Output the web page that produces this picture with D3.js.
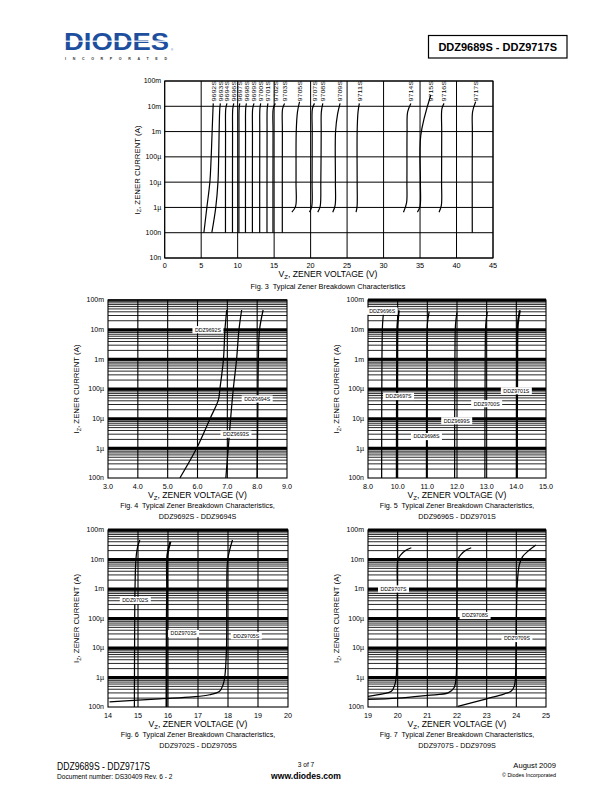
<!DOCTYPE html>
<html><head><meta charset="utf-8">
<script src="https://cdn.jsdelivr.net/npm/d3@7"></script>
<style>
body{margin:0;background:#fff}
svg{display:block}
text{font-family:"Liberation Sans",Arial,Helvetica,sans-serif;fill:#000;white-space:pre}
</style>
</head><body>
<svg id="page" width="612" height="792"></svg>
<script>
// ---------------- DATA ----------------
const yTickValues = [1e-1,1e-2,1e-3,1e-4,1e-5,1e-6,1e-7,1e-8];
const yTickLabels = ["100m","10m","1m","100µ","10µ","1µ","100n","10n"];

// Fig. 3 (all types)
const fig3XTicks = [0,5,10,15,20,25,30,35,40,45];
const fig3Names = ["9692S","9693S","9694S","9696S","9697S","9698S","9699S","9700S","9701S","9702S",
  "9703S","9705S","9707S","9708S","9709S","9711S","9714S","9715S","9716S","9717S"];
const fig3Curves = [
  [[5.37,1e-7],[5.78,1e-6],[6.19,1e-5],[6.37,1e-4],[6.5,1e-3],[6.62,8e-3],[6.66,1.3e-2]],
  [[6.46,1e-7],[7.0,1e-6],[7.3,1e-5],[7.4,1e-4],[7.46,1e-3],[7.55,8e-3],[7.63,1.3e-2]],
  [[8.33,1e-7],[8.34,1e-3],[8.37,8e-3],[8.53,1.3e-2]],
  [[9.29,1e-7],[9.3,1e-3],[9.33,8e-3],[9.47,1.3e-2]],
  [[10.17,1e-7],[10.18,1e-3],[10.2,8e-3],[10.29,1.3e-2]],
  [[11.07,1e-7],[11.08,1e-3],[11.1,8e-3],[11.2,1.3e-2]],
  [[12.02,1e-7],[12.03,1e-3],[12.06,8e-3],[12.24,1.3e-2]],
  [[13.02,1e-7],[13.03,1e-3],[13.05,8e-3],[13.16,1.3e-2]],
  [[14.02,1e-7],[14.03,1e-3],[14.05,8e-3],[14.15,1.3e-2]],
  [[14.84,1e-7],[14.85,1e-3],[14.88,8e-3],[15.16,1.3e-2]],
  [[16.12,1e-7],[16.13,1e-3],[16.16,8e-3],[16.43,1.3e-2]],
  [[17.43,6.5e-7],[17.94,1.1e-6],[18.0,1e-5],[18.03,1e-3],[18.2,6e-3],[18.48,1.5e-2]],
  [[19.85,6.5e-7],[20.16,1.1e-6],[20.2,1e-5],[20.22,1e-3],[20.25,8e-3],[20.53,1.3e-2]],
  [[20.98,6.5e-7],[21.31,1.1e-6],[21.4,1e-5],[21.45,1e-3],[21.47,6e-3],[21.67,1.3e-2]],
  [[23.03,6.5e-7],[23.36,1.2e-6],[23.4,1e-5],[23.42,1e-3],[23.7,5e-3],[24.04,1.3e-2]],
  [[26.23,6.5e-7],[26.37,1.1e-6],[26.38,1e-5],[26.38,1e-3],[26.5,6e-3],[26.68,1.3e-2]],
  [[32.73,6.5e-7],[33.15,1.5e-6],[33.2,1e-5],[33.22,1e-3],[33.3,6e-3],[33.74,1.3e-2]],
  [[34.64,6.5e-7],[35.0,1.1e-6],[35.05,1e-5],[35.1,7e-4],[36.47,2.8e-2]],
  [[37.6,6.5e-7],[37.92,1.2e-6],[37.95,1e-5],[37.97,1e-3],[38.0,8e-3],[38.29,1.3e-2]],
  [[42.16,1e-7],[42.15,1e-5],[42.17,1e-3],[42.2,6e-3],[42.62,1.5e-2]]
];

// Fig. 4
const fig4XTicks = [3,4,5,6,7,8,9];
const fig4XLabels = ["3.0","4.0","5.0","6.0","7.0","8.0","9.0"];
const fig4Names = ["DDZ9692S","DDZ9693S","DDZ9694S"];
const fig4Curves = [
  [[5.41,1e-7],[5.97,1e-6],[6.42,1e-5],[6.7,4.3e-5],[6.75,1e-4],[6.87,1e-3],[6.92,1e-2],[6.98,4.6e-2]],
  [[6.95,1e-7],[7.03,1e-6],[7.11,1e-5],[7.2,1e-4],[7.31,1e-3],[7.39,1e-2],[7.48,4.6e-2]],
  [[8.0,1e-7],[8.02,1e-5],[8.04,1e-3],[8.08,1e-2],[8.2,4.6e-2]]
];
const fig4LabelAt = [[6.35,1e-2],[7.29,3e-6],[8.0,4.6e-5]];

// Fig. 5
const fig5XTicks = [9,10,11,12,13,14,15];
const fig5XLabels = ["8.0","10.0","11.0","12.0","13.0","14.0","15.0"];
const fig5Names = ["DDZ9696S","DDZ9697S","DDZ9698S","DDZ9699S","DDZ9700S","DDZ9701S"];
const fig5Curves = [
  [[9.46,1e-7],[9.47,1e-3],[9.49,1.5e-2],[9.52,3.5e-2]],
  [[9.97,1e-7],[9.98,1e-3],[9.99,1.2e-2],[10.04,4.5e-2]],
  [[10.97,1e-7],[10.98,1e-3],[11.0,1.5e-2],[11.06,4e-2]],
  [[11.92,1e-7],[11.93,1e-3],[11.95,1.5e-2],[12.0,3.8e-2]],
  [[12.94,1e-7],[12.95,1e-3],[12.97,1.5e-2],[13.02,4e-2]],
  [[14.02,1e-7],[14.03,1e-3],[14.05,1.5e-2],[14.12,4.5e-2]]
];
const fig5LabelAt = [[9.48,4.2e-2],[10.03,5.6e-5],[10.97,2.5e-6],[11.99,8.5e-6],[13.0,3.2e-5],[14.0,8.7e-5]];

// Fig. 6
const fig6XTicks = [14,15,16,17,18,19,20];
const fig6XLabels = ["14","15","16","17","18","19","20"];
const fig6Names = ["DDZ9702S","DDZ9703S","DDZ9705S"];
const fig6Curves = [
  [[14.88,1e-7],[14.89,1e-4],[14.9,1e-3],[14.93,1e-2],[14.98,2.5e-2],[15.06,4.6e-2]],
  [[15.95,1e-7],[15.96,1e-4],[15.97,1e-3],[15.98,1.4e-2],[16.08,4e-2]],
  [[14.05,1.5e-7],[15.72,1.9e-7],[16.82,2.2e-7],[17.39,2.6e-7],[17.72,3.4e-7],[17.83,5.5e-7],[17.89,1e-6],[17.95,1e-5],[17.96,1e-3],[17.99,1e-2],[18.15,4.6e-2]]
];
const fig6LabelAt = [[14.91,4.1e-4],[16.52,3.1e-5],[18.61,2.6e-5]];

// Fig. 7
const fig7XTicks = [19,20,21,22,23,24,25];
const fig7XLabels = ["19","20","21","22","23","24","25"];
const fig7Names = ["DDZ9707S","DDZ9708S","DDZ9709S"];
const fig7Curves = [
  [[19.0,2.3e-7],[19.5,2.8e-7],[19.79,3.4e-7],[19.9,5.5e-7],[19.95,1e-6],[19.98,1e-5],[19.99,1e-3],[20.01,1e-2],[20.12,1.5e-2],[20.29,2.1e-2],[20.46,2.5e-2]],
  [[19.0,1.8e-7],[20.0,2e-7],[21.0,2.5e-7],[21.7,3e-7],[21.9,4.5e-7],[21.97,1e-6],[21.99,1e-5],[22.0,1e-3],[22.03,1e-2],[22.14,1.5e-2],[22.31,2.1e-2],[22.48,2.5e-2]],
  [[22.03,1.05e-7],[23.0,1.9e-7],[23.6,2.8e-7],[23.82,3.4e-7],[23.93,5e-7],[23.97,1e-6],[23.99,1e-5],[24.0,1e-4],[24.04,2e-3],[24.1,6.6e-3],[24.21,1.25e-2],[24.44,2.1e-2],[24.66,3.1e-2]]
];
const fig7LabelAt = [[19.86,1e-3],[22.61,1.26e-4],[24.02,2.1e-5]];

// ---------------- DRAWING ----------------
const svg = d3.select("#page");

function yTitle(g, x, y, size) {
  const t = g.append("text").attr("transform", `translate(${x},${y}) rotate(-90)`)
    .attr("text-anchor", "middle").attr("font-size", size);
  t.append("tspan").text("I");
  t.append("tspan").attr("font-size", size * 0.7).attr("dy", size * 0.25).text("Z");
  t.append("tspan").attr("dy", -size * 0.25).text(", ZENER CURRENT (A)");
}
function xTitle(g, x, y, size) {
  const t = g.append("text").attr("x", x).attr("y", y).attr("text-anchor", "middle").attr("font-size", size);
  t.append("tspan").text("V");
  t.append("tspan").attr("font-size", size * 0.7).attr("dy", size * 0.25).text("Z");
  t.append("tspan").attr("dy", -size * 0.25).text(", ZENER VOLTAGE (V)");
}

// Header
const logo = svg.append("g");
logo.append("text").attr("x", 64).attr("y", 50).attr("font-size", 24).attr("font-weight", "bold")
  .attr("textLength", 105).attr("lengthAdjust", "spacingAndGlyphs")
  .style("fill", "#1d4f9e").text("DIODES");
logo.append("rect").attr("x", 62).attr("y", 40.6).attr("width", 112).attr("height", 1.2).attr("fill", "#fff");
logo.append("text").attr("x", 171).attr("y", 51).attr("font-size", 3).style("fill", "#1d4f9e").text("®");
logo.append("text").attr("x", 65).attr("y", 59.5).attr("font-size", 3.6).attr("font-weight", "bold")
  .attr("textLength", 102).attr("lengthAdjust", "spacing").style("fill", "#333").text("INCORPORATED");

svg.append("rect").attr("x", 428.5).attr("y", 35.5).attr("width", 138.5).attr("height", 22.5)
  .attr("fill", "none").attr("stroke", "#000").attr("stroke-width", 1.2);
svg.append("text").attr("x", 497.7).attr("y", 51).attr("text-anchor", "middle").attr("font-size", 11)
  .attr("font-weight", "bold").text("DDZ9689S - DDZ9717S");

// Fig 3
(function () {
  const L = 164.7, R = 493, T = 81, B = 258;
  const g = svg.append("g");
  const x = d3.scaleLinear().domain([0, 45]).range([L, R]);
  const y = d3.scaleLog().domain([1e-8, 1e-1]).range([B, T]);
  g.selectAll(".hg").data(yTickValues).join("line")
    .attr("x1", L).attr("x2", R).attr("y1", d => y(d)).attr("y2", d => y(d))
    .attr("stroke", "#000").attr("stroke-width", 1);
  g.selectAll(".vg").data(fig3XTicks).join("line")
    .attr("x1", d => x(d)).attr("x2", d => x(d)).attr("y1", T).attr("y2", B)
    .attr("stroke", "#000").attr("stroke-width", 1);
  g.append("rect").attr("x", L).attr("y", T).attr("width", R - L).attr("height", B - T)
    .attr("fill", "none").attr("stroke", "#000").attr("stroke-width", 1);
  const line = d3.line().x(d => x(d[0])).y(d => y(d[1])).curve(d3.curveCatmullRom.alpha(0.5));
  g.selectAll(".cv").data(fig3Curves).join("path").attr("d", line)
    .attr("fill", "none").attr("stroke", "#000").attr("stroke-width", 1.2);
  g.selectAll(".lb").data(fig3Names).join("text")
    .attr("transform", (d, i) => {
      const c = fig3Curves[i]; const top = c[c.length - 1];
      return `translate(${x(top[0]) + 0.6},101.5) rotate(-90)`;
    })
    .attr("dy", "0.35em").attr("font-size", 5).attr("textLength", 20.5)
    .attr("lengthAdjust", "spacingAndGlyphs").text(d => d);
  g.selectAll(".yt").data(yTickValues).join("text")
    .attr("x", L - 3.5).attr("y", d => y(d)).attr("dy", "0.35em").attr("text-anchor", "end")
    .attr("font-size", 7).text((d, i) => yTickLabels[i]);
  g.selectAll(".xt").data(fig3XTicks).join("text")
    .attr("x", d => x(d)).attr("y", 267.5).attr("text-anchor", "middle")
    .attr("font-size", 7.3).text(d => String(d));
  xTitle(g, 328, 276.5, 8.6);
  yTitle(g, 139.5, 170, 7.8);
  g.append("text").attr("x", 328).attr("y", 289).attr("text-anchor", "middle").attr("font-size", 7.3)
    .text("Fig. 3\u00a0 Typical Zener Breakdown Characteristics");
})();

const thickCurves = new Set(["DDZ9697S", "DDZ9701S", "DDZ9703S"]);

function detailFig(o) {
  const g = svg.append("g");
  const x = d3.scaleLinear().domain([o.ticks[0], o.ticks[o.ticks.length - 1]]).range([o.L, o.R]);
  const y = d3.scaleLog().domain([1e-7, 1e-1]).range([o.B, o.T]);
  const minor = [];
  for (let e = -7; e < -1; e++) for (let k = 2; k <= 9; k++) minor.push(k * Math.pow(10, e));
  g.selectAll(".mn").data(minor).join("line")
    .attr("x1", o.L).attr("x2", o.R).attr("y1", d => y(d)).attr("y2", d => y(d))
    .attr("stroke", "#000").attr("stroke-width", 0.85);
  g.selectAll(".vg").data(o.ticks.slice(1, -1)).join("line")
    .attr("x1", d => x(d)).attr("x2", d => x(d)).attr("y1", o.T).attr("y2", o.B)
    .attr("stroke", "#000").attr("stroke-width", 1.1);
  const majors = [1e-6, 1e-5, 1e-4, 1e-3, 1e-2];
  g.selectAll(".mj").data(majors).join("line")
    .attr("x1", o.L).attr("x2", o.R).attr("y1", d => y(d)).attr("y2", d => y(d))
    .attr("stroke", "#000").attr("stroke-width", 3);
  g.append("line").attr("x1", o.L).attr("x2", o.R).attr("y1", o.T).attr("y2", o.T)
    .attr("stroke", "#000").attr("stroke-width", o.topW);
  g.append("rect").attr("x", o.L).attr("y", o.T).attr("width", o.R - o.L).attr("height", o.B - o.T)
    .attr("fill", "none").attr("stroke", "#000").attr("stroke-width", 1.1);
  const line = d3.line().x(d => x(d[0])).y(d => y(d[1])).curve(d3.curveCatmullRom.alpha(0.5));
  g.selectAll(".cv").data(o.curves).join("path").attr("d", line)
    .attr("fill", "none").attr("stroke", "#000")
    .attr("stroke-width", (d, i) => thickCurves.has(o.names[i]) ? 2 : 1.25);
  const lab = g.selectAll(".lb").data(o.names).join("g")
    .attr("transform", (d, i) => `translate(${x(o.labelAt[i][0])},${y(o.labelAt[i][1])})`);
  lab.append("rect").attr("x", -15.5).attr("y", -3.6).attr("width", 31).attr("height", 7.2).attr("fill", "#fff");
  lab.append("text").attr("text-anchor", "middle").attr("dy", "0.36em").attr("font-size", 5.4)
    .attr("textLength", 26).attr("lengthAdjust", "spacingAndGlyphs").text(d => d);
  g.selectAll(".yt").data(yTickValues.slice(0, 7)).join("text")
    .attr("x", o.L - 4).attr("y", d => y(d)).attr("dy", "0.35em").attr("text-anchor", "end")
    .attr("font-size", 7).text((d, i) => yTickLabels[i]);
  g.selectAll(".xt").data(o.ticks).join("text")
    .attr("x", d => x(d)).attr("y", o.B + 11).attr("text-anchor", "middle")
    .attr("font-size", 7.2).text((d, i) => o.xLabels[i]);
  const cx = (o.L + o.R) / 2;
  xTitle(g, cx, o.B + 19.5, 8.6);
  yTitle(g, o.L - 29, (o.T + o.B) / 2, 7.8);
  g.append("text").attr("x", cx).attr("y", o.B + 30).attr("text-anchor", "middle").attr("font-size", 7.2)
    .text(o.cap1);
  g.append("text").attr("x", cx).attr("y", o.B + 41).attr("text-anchor", "middle").attr("font-size", 7.2)
    .text(o.cap2);
}

detailFig({ L: 108, R: 287, T: 300, B: 478, topW: 1.5, ticks: fig4XTicks, xLabels: fig4XLabels,
  names: fig4Names, curves: fig4Curves, labelAt: fig4LabelAt,
  cap1: "Fig. 4\u00a0 Typical Zener Breakdown Characteristics,", cap2: "DDZ9692S - DDZ9694S" });
detailFig({ L: 368, R: 546, T: 300, B: 478, topW: 3, ticks: fig5XTicks, xLabels: fig5XLabels,
  names: fig5Names, curves: fig5Curves, labelAt: fig5LabelAt,
  cap1: "Fig. 5\u00a0 Typical Zener Breakdown Characteristics,", cap2: "DDZ9696S - DDZ9701S" });
detailFig({ L: 108, R: 288, T: 530, B: 707, topW: 3, ticks: fig6XTicks, xLabels: fig6XLabels,
  names: fig6Names, curves: fig6Curves, labelAt: fig6LabelAt,
  cap1: "Fig. 6\u00a0 Typical Zener Breakdown Characteristics,", cap2: "DDZ9702S - DDZ9705S" });
detailFig({ L: 368, R: 546, T: 530, B: 707, topW: 3, ticks: fig7XTicks, xLabels: fig7XLabels,
  names: fig7Names, curves: fig7Curves, labelAt: fig7LabelAt,
  cap1: "Fig. 7\u00a0 Typical Zener Breakdown Characteristics,", cap2: "DDZ9707S - DDZ9709S" });

// Footer
svg.append("text").attr("x", 57).attr("y", 769.5).attr("font-size", 10.5).attr("textLength", 93)
  .attr("lengthAdjust", "spacingAndGlyphs").text("DDZ9689S - DDZ9717S");
svg.append("text").attr("x", 57).attr("y", 779).attr("font-size", 6.6).text("Document number: DS30409 Rev. 6 - 2");
svg.append("text").attr("x", 306).attr("y", 767).attr("text-anchor", "middle").attr("font-size", 6.6).text("3 of 7");
svg.append("text").attr("x", 306).attr("y", 778.5).attr("text-anchor", "middle").attr("font-size", 8.6)
  .attr("font-weight", "bold").text("www.diodes.com");
svg.append("text").attr("x", 556).attr("y", 768).attr("text-anchor", "end").attr("font-size", 7.6).text("August 2009");
svg.append("text").attr("x", 556).attr("y", 777).attr("text-anchor", "end").attr("font-size", 5.4).text("© Diodes Incorporated");
</script>
</body></html>
